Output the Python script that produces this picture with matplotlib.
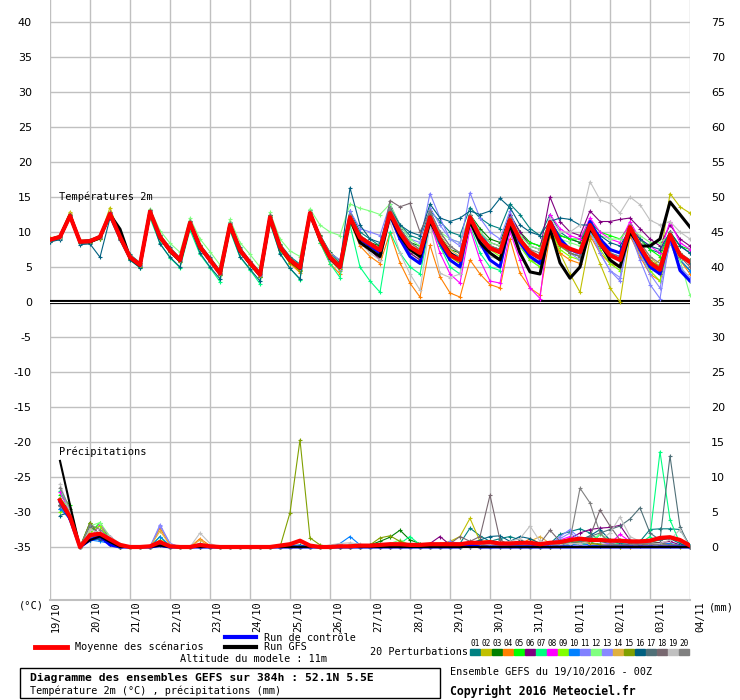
import numpy as np
import matplotlib
matplotlib.use('Agg')
import matplotlib.pyplot as plt
from matplotlib.patches import Rectangle

plt.rcParams['font.family'] = ['DejaVu Sans Mono', 'DejaVu Sans']

# run: GEFS 19/10/2016 00Z, 6-hourly steps out to 384h
days = ['19/10', '20/10', '21/10', '22/10', '23/10', '24/10', '25/10', '26/10', '27/10',
        '28/10', '29/10', '30/10', '31/10', '01/11', '02/11', '03/11', '04/11']
hours = np.arange(0, 385, 6)

# --- 2m temperature (degC), 65 values each ---
temp_mean = [8.9, 9.3, 12.3, 8.6, 8.7, 9.3, 12.6, 9.3, 6.4, 5.3,
             12.9, 9.3, 7.4, 6.0, 11.3, 7.9, 6.0, 4.1, 11.0, 7.4, 5.6, 3.9,
             12.1, 7.9, 6.0, 4.9, 12.7, 9.1, 6.4, 5.0,
             12.1, 9.2, 8.3, 7.4, 12.7, 9.9, 7.9, 7.0, 12.1, 8.9, 6.7, 6.0,
             12.1, 9.3, 7.7, 7.1, 11.7, 8.9, 7.1, 6.3, 11.4, 8.3, 7.6, 7.1,
             11.0, 8.4, 6.7, 6.0, 10.7, 7.9, 5.6, 4.6, 9.6, 6.7, 5.7]
temp_ctrl = [8.9, 9.3, 12.3, 8.6, 8.7, 9.3, 12.6, 9.3, 6.4, 5.3,
             12.9, 9.3, 7.4, 6.0, 11.3, 7.9, 6.0, 4.1, 11.0, 7.4, 5.6, 3.9,
             12.1, 7.9, 6.0, 4.9, 12.7, 9.1, 6.4, 5.0,
             12, 9, 8, 7, 12.5, 9, 6.5, 5.5, 12, 8.5, 6, 5,
             12, 8.5, 6, 5, 11.5, 8.5, 6.5, 5.5, 11.5, 9, 7.5, 7,
             11.5, 9, 7.5, 7, 10.5, 7.5, 5, 4, 9.5, 4.5, 3]
temp_gfs = [8.9, 9.3, 12.4, 8.6, 8.6, 9.2, 12.5, 10.4, 6.3, 5.2,
            12.9, 9.2, 7.3, 5.9, 11.2, 7.8, 6.0, 4.1, 11.0, 7.3, 5.5, 3.9,
            12.0, 7.8, 5.9, 4.8, 12.6, 9.0, 6.3, 4.9,
            12, 8.5, 7.5, 6.5, 12.5, 9.5, 7.5, 6.5, 11.5, 9, 7, 6,
            11.5, 8.5, 7, 6, 11, 7, 4.3, 4, 10.5, 5.6, 3.4, 5,
            10.5, 8.5, 6, 5, 10, 8, 8, 9, 14.3, 12.5, 10.7]

temp_p01 = [8.6, 9.0, 12.0, 8.4, 8.5, 9.6, 12.2, 9.0, 6.8, 5.6,
            12.5, 9.6, 7.8, 6.3, 11.6, 8.2, 6.4, 4.5, 11.4, 7.8, 5.9, 4.3,
            12.4, 8.3, 6.5, 5.4, 13.1, 9.5, 6.9, 5.6,
            13, 10, 9, 8, 13.5, 11, 9.5, 9, 13, 11.5, 10, 9.5,
            13.5, 12, 11, 10.5, 14, 12.5, 10.5, 9.5, 12.5, 10, 9, 8.5,
            11.5, 9, 7.5, 7, 11, 9, 7.5, 7, 10, 8, 7]
temp_p02 = [9.1, 9.5, 12.9, 8.8, 8.9, 9.4, 13.5, 9.5, 6.2, 5.1,
            12.7, 9.1, 7.2, 5.8, 11.0, 7.6, 5.7, 3.9, 10.8, 7.2, 5.3, 3.6,
            11.8, 7.6, 5.6, 4.4, 12.4, 8.8, 6.0, 4.5,
            11.5, 8.5, 7.5, 6.5, 12, 9, 7, 6, 11, 8, 6, 5,
            11, 8.5, 7, 6, 11, 8, 6, 5.5, 10.5, 7, 4, 1.4,
            9, 5.5, 2, 0, 9.5, 7, 5, 6, 15.5, 13.6, 12.7]
temp_p03 = [8.7, 9.2, 12.5, 8.5, 8.6, 9.0, 12.4, 9.1, 6.1, 5.0,
            13.1, 9.5, 7.5, 6.2, 11.5, 8.0, 5.8, 3.8, 11.2, 7.6, 5.5, 3.6,
            12.5, 8.0, 5.8, 4.6, 12.9, 9.6, 7.1, 5.9,
            12.5, 9.5, 8.5, 8, 13, 10.5, 8.5, 8, 12, 9.5, 7.5, 7,
            12.5, 10.5, 9, 8.5, 12.5, 10, 8.5, 8, 11.5, 9.5, 9, 8.5,
            11, 9, 7, 6, 10, 8, 5.5, 4, 8.5, 6, 4.5]
temp_p04 = [9.0, 9.4, 12.6, 8.7, 8.8, 9.2, 12.8, 9.4, 6.5, 5.5,
            13.0, 9.2, 7.1, 5.7, 11.1, 7.7, 5.8, 4.0, 10.9, 7.3, 5.4, 3.7,
            12.0, 7.5, 5.5, 4.2, 12.5, 8.5, 5.5, 4.0,
            11.5, 8, 6.5, 5.5, 9.9, 5.6, 2.7, 0.7, 8.1, 3.6, 1.3, 0.7,
            6, 4, 2.5, 2, 9, 4.1, 2, 1, 9.5, 7, 6, 5.5,
            9.5, 7, 5.5, 5, 9.5, 6.5, 4, 3, 9, 6, 4]
temp_p05 = [8.8, 9.1, 12.4, 8.7, 8.8, 9.4, 12.5, 9.6, 6.6, 5.4,
            12.8, 9.4, 7.6, 6.1, 11.4, 8.1, 6.2, 4.2, 11.2, 7.5, 5.7, 4.0,
            12.3, 8.1, 6.2, 5.1, 12.9, 9.2, 6.5, 5.2,
            12, 9.5, 8, 7, 13, 10, 8, 7, 12.5, 9, 6.5, 6,
            12, 9, 8, 7.5, 12, 9.5, 8.5, 8, 11.5, 9.5, 9, 9,
            11.5, 10, 9.5, 9, 11, 9, 7.5, 6.5, 10, 8, 7.5]
temp_p06 = [8.9, 9.3, 12.1, 8.6, 8.6, 9.2, 12.6, 9.2, 6.3, 5.2,
            12.9, 9.2, 7.3, 5.9, 11.3, 7.8, 5.9, 4.0, 11.1, 7.4, 5.6, 3.9,
            12.2, 7.8, 5.9, 4.8, 12.6, 8.9, 6.2, 4.8,
            11.5, 8.5, 7.5, 6, 12, 9, 7, 6, 12, 9.5, 7, 6,
            12, 10, 8.5, 8, 12.5, 10, 8, 7.5, 15, 11.5, 10, 9.5,
            13, 11.5, 11.5, 11.8, 12, 10.5, 9, 8, 11, 9, 8]
temp_p07 = [8.8, 9.2, 12.2, 8.5, 8.6, 9.1, 12.3, 9.0, 6.0, 4.9,
            12.0, 8.4, 6.3, 4.9, 10.3, 6.8, 4.9, 2.9, 10.2, 6.4, 4.6, 2.6,
            11.2, 7.0, 4.8, 3.2, 12.3, 8.5, 5.5, 3.5,
            11, 5, 3, 1.4, 10, 7, 5, 4, 11, 8, 5, 4,
            11, 7, 5, 4.5, 11, 8, 6, 5, 10.5, 8, 7, 6.5,
            10, 8, 6, 5, 10, 7.5, 5.5, 4.5, 9, 6.5, 6]
temp_p08 = [9.0, 9.4, 12.4, 8.7, 8.7, 9.3, 12.7, 9.4, 6.5, 5.4,
            13.1, 9.4, 7.5, 6.1, 11.4, 8.0, 6.1, 4.2, 11.1, 7.5, 5.7, 4.0,
            12.2, 8.0, 6.1, 5.0, 12.8, 9.2, 6.5, 5.1,
            12, 9, 8, 7, 12.5, 9.5, 7.5, 6.5, 11.5, 7, 4, 2.7,
            10.5, 6, 3, 2.7, 10, 6, 2, 0.5, 12.5, 10.5, 9.5, 9,
            12, 10, 9, 8.5, 11.5, 9, 8, 7, 11.5, 8.5, 7.5]
temp_p09 = [8.7, 9.1, 12.1, 8.5, 8.6, 9.2, 12.5, 9.2, 6.3, 5.2,
            12.8, 9.2, 7.2, 5.8, 11.2, 7.7, 5.8, 3.9, 10.9, 7.2, 5.4, 3.7,
            12.0, 7.7, 5.7, 4.6, 12.5, 8.9, 6.2, 4.7,
            12, 9, 8, 7, 12.5, 9.5, 7.5, 6.5, 12, 8.5, 6.5, 5.5,
            12, 9, 7.5, 6.5, 11, 8, 6, 5, 10.5, 7.5, 6.5, 6,
            10.5, 7.5, 5.5, 4.5, 10, 7, 4.5, 3, 8.5, 5, 3]
temp_p10 = [8.8, 9.3, 12.3, 8.6, 8.7, 9.4, 12.7, 9.3, 6.3, 5.2,
            13.0, 9.3, 7.4, 6.0, 11.3, 7.9, 6.0, 4.1, 11.2, 7.6, 5.7, 4.0,
            12.1, 7.9, 6.0, 4.9, 12.8, 9.1, 6.5, 5.0,
            12.5, 9.5, 8.5, 7.5, 13, 10, 8, 7, 12.5, 9, 7, 6.5,
            12.5, 10, 8, 7.5, 12, 9, 7.5, 6.5, 11.5, 8.5, 7.5, 7,
            11.5, 8.5, 7, 6.5, 11, 8, 5.5, 4.5, 9.5, 6, 4.5]
temp_p11 = [9.0, 9.4, 12.4, 8.7, 8.8, 9.4, 12.6, 9.3, 6.4, 5.3,
            12.9, 9.3, 7.4, 6.0, 11.3, 7.9, 6.0, 4.1, 11.0, 7.4, 5.6, 3.9,
            12.2, 8.0, 6.1, 5.0, 12.8, 9.5, 7.0, 6.0,
            13, 10.5, 10, 9.5, 14, 11, 9, 8.5, 15.5, 12, 9, 8,
            15.6, 12, 10, 9, 13, 9, 7, 6, 12, 9, 7.5, 6.5,
            11, 7, 4.5, 3, 10, 6, 2.5, 0.5, 9, 5, 3]
temp_p12 = [8.9, 9.3, 12.6, 8.6, 8.8, 9.5, 12.6, 9.5, 6.6, 5.5,
            13.3, 10.2, 8.4, 7.1, 12.0, 9.0, 7.2, 5.3, 11.8, 8.5, 6.8, 5.0,
            12.8, 9.0, 7.3, 6.5, 13.3, 11, 10, 9.5,
            14, 13.4, 13, 12.5, 14, 11, 9, 8, 12, 10, 9, 8.5,
            12.5, 10, 8.5, 8, 12, 9.5, 8, 7.5, 11.5, 9, 8.5, 8,
            10.5, 9.5, 9, 9, 10.5, 9.5, 8.5, 8.5, 9.5, 6, 1]
temp_p13 = [8.8, 9.2, 12.2, 8.5, 8.6, 9.2, 12.5, 9.2, 6.3, 5.2,
            12.7, 9.1, 7.2, 5.8, 11.1, 7.6, 5.7, 3.8, 10.8, 7.2, 5.4, 3.7,
            11.9, 7.7, 5.8, 4.7, 12.5, 8.8, 6.0, 4.6,
            12, 9, 8, 7, 12.5, 10, 8, 7, 13.5, 11, 9, 8.5,
            12, 9, 7.5, 7, 11.5, 9, 7, 6, 11, 8, 7, 6,
            10, 7, 4.5, 3.5, 10, 7, 4, 2, 8.5, 5, 3.5]
temp_p14 = [9.1, 9.4, 12.7, 8.8, 8.9, 9.4, 12.9, 9.5, 6.6, 5.5,
            13.0, 9.5, 7.6, 6.2, 11.5, 8.1, 6.2, 4.3, 11.2, 7.6, 5.8, 4.1,
            12.3, 8.1, 6.2, 5.2, 12.9, 9.4, 6.8, 5.4,
            12.5, 9.5, 8.5, 7.5, 13, 10, 8, 7.5, 12.5, 9.5, 7.5, 6.5,
            12.5, 9.5, 8, 7.5, 12, 9, 7.5, 6.5, 11.5, 8.5, 7.5, 7,
            11, 8.5, 7, 6, 11, 8.5, 6.5, 5, 10, 7, 5.5]
temp_p15 = [8.7, 9.1, 12.4, 8.5, 8.5, 9.0, 12.4, 9.0, 6.1, 5.0,
            12.7, 9.0, 7.1, 5.7, 11.0, 7.6, 5.8, 3.9, 10.7, 7.1, 5.3, 3.6,
            11.7, 7.5, 5.6, 4.5, 12.4, 8.8, 6.1, 4.7,
            12, 9, 8, 7, 12.5, 9.5, 8, 7, 11.5, 8.5, 6.5, 5.5,
            11.5, 9, 7.5, 7, 11, 8.5, 7, 6, 11, 8, 7, 6.5,
            10.5, 8, 6.5, 6, 10.5, 8, 6, 5, 10, 7, 6]
temp_p16 = [8.6, 8.9, 12.0, 8.2, 8.3, 6.4, 12.0, 8.8, 6.0, 4.9,
            12.5, 8.3, 6.4, 5.0, 10.8, 7.0, 5.0, 3.3, 10.4, 6.5, 4.7, 3.0,
            11.5, 6.9, 4.8, 3.3, 12.3, 8.8, 6.2, 5.5,
            16.3, 11, 9, 8.5, 13.5, 11, 10, 9.5, 14, 12, 11.5, 12,
            13, 12.5, 13, 14.8, 13.5, 11, 10, 9.5, 11.5, 12, 11.8, 11,
            11, 9.5, 8.5, 8, 10.5, 9, 8, 7.5, 10, 8, 7]
temp_p17 = [8.9, 9.3, 12.3, 8.6, 8.6, 9.3, 12.6, 9.3, 6.4, 5.3,
            12.9, 9.3, 7.4, 6.0, 11.3, 7.9, 6.0, 4.1, 11.0, 7.4, 5.6, 3.9,
            12.1, 7.9, 6.0, 4.9, 12.7, 9.1, 6.4, 5.0,
            12, 9, 8, 7, 13, 10.5, 8.5, 7.5, 12.5, 9, 7, 6,
            12.5, 9.5, 8, 7.5, 12, 9, 7, 6, 11.5, 8.5, 7.5, 7,
            11, 8.5, 7, 6, 10.5, 8, 5.5, 4.5, 9.5, 6.5, 5.5]
temp_p18 = [9.0, 9.5, 12.5, 8.8, 8.9, 9.5, 12.8, 9.6, 6.7, 5.6,
            13.1, 9.6, 7.7, 6.3, 11.6, 8.2, 6.3, 4.4, 11.3, 7.7, 5.9, 4.2,
            12.4, 8.2, 6.3, 5.2, 12.9, 9.4, 6.7, 5.3,
            12.5, 9.5, 8.5, 7.5, 14.5, 13.6, 14.1, 10, 13, 10, 8, 7,
            12.5, 9.5, 8, 7, 12, 9, 7, 6, 11.5, 8.5, 7, 6.5,
            11, 8, 6, 5, 10.5, 7.5, 5, 4, 9.5, 6.5, 5]
temp_p19 = [8.8, 9.2, 12.3, 8.6, 8.7, 9.3, 12.5, 9.3, 6.4, 5.3,
            12.8, 9.3, 7.4, 6.0, 11.3, 7.9, 6.0, 4.1, 11.0, 7.4, 5.6, 3.9,
            12.0, 7.9, 6.0, 4.9, 12.6, 9.0, 6.3, 4.9,
            12, 8.5, 7, 6, 11.5, 7, 4, 1.7, 11, 4.1, 3.5, 4,
            11, 8, 6.5, 6, 11, 8, 6.5, 6, 12, 10, 10, 11,
            17.2, 14.6, 14.1, 12.7, 15, 13.9, 11.7, 11, 11.5, 10, 9]
temp_p20 = [8.9, 9.3, 12.4, 8.7, 8.7, 9.3, 12.6, 9.3, 6.4, 5.3,
            12.9, 9.3, 7.5, 6.1, 11.4, 8.0, 6.1, 4.2, 11.1, 7.5, 5.7, 4.0,
            12.2, 8.0, 6.1, 5.0, 12.7, 9.2, 6.5, 5.1,
            12.5, 9.5, 8.5, 7.5, 13.5, 10.5, 8.5, 7.5, 13, 10, 8, 7,
            12.5, 9.5, 8, 7.5, 12, 9, 7.5, 7, 11.5, 8.5, 7.5, 7,
            11, 8.5, 7, 6.5, 11, 8.5, 6.5, 5.5, 10, 7, 6]

# --- 6h precipitation (mm), 64 values each, from +6h ---
rain_mean = [6.7, 4.3, 0, 1.7, 1.9, 1.1, 0.3, 0, 0, 0.1, 0.7, 0.1, 0, 0, 0.3, 0.1,
             0, 0, 0, 0, 0, 0, 0.2, 0.4, 0.9, 0.2, 0, 0, 0.1, 0.1, 0.2, 0.2,
             0.3, 0.4, 0.4, 0.3, 0.3, 0.4, 0.4, 0.4, 0.4, 0.6, 0.6, 0.7, 0.5, 0.5, 0.6, 0.6,
             0.4, 0.6, 0.7, 1.0, 1.2, 1.0, 1.0, 0.9, 0.9, 0.8, 0.8, 0.9, 1.3, 1.4, 1.0, 0.2]
rain_ctrl = [6.5, 4.0, 0, 1.0, 1.5, 0.3, 0, 0, 0, 0, 0.2, 0, 0, 0, 0, 0,
             0, 0, 0, 0, 0, 0, 0, 0, 0, 0, 0, 0, 0, 0, 0, 0,
             0, 0, 0, 0, 0, 0, 0, 0, 0, 0.3, 0, 0, 0, 0, 0, 0,
             0, 0, 0, 0, 0, 0, 0, 0, 0, 0, 0, 0, 0, 0, 0, 0]
rain_gfs = [12.3, 6.0, 0, 1.0, 1.5, 0.7, 0, 0, 0, 0, 0.2, 0, 0, 0, 0, 0,
            0, 0, 0, 0, 0, 0, 0, 0, 0, 0, 0, 0, 0, 0, 0, 0,
            0, 0, 0, 0, 0, 0, 0, 0, 0, 0, 0, 0, 0, 0, 0, 0,
            0, 0, 0, 0, 0, 0, 0, 0, 0, 0, 0, 0, 0, 0, 0, 0]

rain_p01 = [5.5, 4.0, 0, 1.2, 1.5, 0.5, 0, 0, 0, 0, 0.4, 0, 0, 0, 0.2, 0,
            0, 0, 0, 0, 0, 0, 0, 0.2, 0.3, 0, 0, 0, 0, 0, 0, 0.2,
            0.4, 0.3, 0.2, 0.5, 0.3, 0.3, 0.2, 0.2, 0.5, 2.7, 1.6, 0.8, 1.2, 1.5, 1.0, 0.5,
            0.3, 0.5, 1.8, 2.2, 2.6, 2.0, 0.8, 0.5, 0.3, 0.5, 0.8, 2.5, 2.6, 2.6, 2.5, 0.2]
rain_p02 = [6.5, 4.5, 0, 2.5, 3.0, 1.0, 0, 0, 0, 0, 1.0, 0, 0, 0, 0, 0,
            0, 0, 0, 0, 0, 0, 0, 0, 0, 0, 0, 0, 0, 0.3, 0.2, 0,
            0, 0, 0, 0, 0, 0, 0.5, 0.8, 1.5, 4.1, 0.8, 0.9, 0.3, 0.2, 0.1, 0,
            0.2, 0, 0, 0.3, 0.5, 0.3, 0.2, 0, 0, 0, 0.2, 0.3, 0.5, 0.4, 0.2, 0]
rain_p03 = [7.0, 5.0, 0, 3.5, 1.5, 0.5, 0, 0, 0, 0, 0.8, 0, 0, 0, 0, 0,
            0, 0, 0, 0, 0, 0, 0, 0, 0, 0, 0, 0, 0, 0, 0, 0.3,
            0.8, 1.4, 2.4, 1.0, 0.5, 0.2, 0, 0, 0, 0.3, 0.2, 0.5, 0.3, 0.2, 0.2, 0,
            0, 0, 0.3, 0.5, 0.8, 0.6, 0.4, 0.3, 0.2, 0.3, 0.5, 0.8, 0.6, 0.4, 0.2, 0]
rain_p04 = [6.0, 4.5, 0, 1.5, 1.8, 0.8, 0, 0, 0, 0, 2.7, 0.3, 0, 0, 1.2, 0.2,
            0, 0, 0, 0, 0, 0, 0, 0, 0, 0, 0, 0, 0, 0, 0, 0,
            0, 0, 0.2, 0, 0, 0, 0, 0, 0, 0.5, 0.3, 0.2, 0, 0.5, 0.3, 1.2,
            0.5, 0.3, 0.2, 0.8, 1.0, 0.6, 0.3, 0.2, 0, 0, 0.3, 0.5, 0.3, 0.2, 0, 0]
rain_p05 = [7.5, 6.0, 0, 2.0, 3.5, 1.0, 0, 0, 0, 0, 1.5, 0, 0, 0, 0.4, 0,
            0, 0, 0, 0, 0, 0, 0, 0, 0, 0, 0, 0, 0, 0, 0, 0,
            0.2, 0.5, 0.3, 0, 0, 0, 0, 0, 0, 0.2, 0.2, 0, 0, 0.3, 0.2, 0,
            0, 0.2, 0.4, 0.6, 0.8, 0.5, 0.3, 0.2, 0.2, 0.3, 0.3, 0.5, 0.4, 0.3, 0.2, 0]
rain_p06 = [6.0, 4.0, 0, 1.5, 1.0, 1.5, 0.3, 0, 0, 0, 0.5, 0, 0, 0, 0, 0,
            0, 0, 0, 0, 0, 0, 0, 0, 0, 0, 0, 0, 0, 0, 0, 0,
            0, 0, 0, 0, 0, 0.5, 1.5, 0.3, 0.2, 0.3, 0.2, 0.3, 0.5, 0.3, 0.2, 0.2,
            0.3, 0.5, 0.8, 1.2, 2.0, 2.5, 2.7, 2.8, 3.1, 1.0, 0.5, 0.5, 0.6, 0.8, 0.3, 0]
rain_p07 = [8.0, 5.5, 0, 1.0, 1.2, 0.5, 0, 0, 0, 0, 0.3, 0, 0, 0, 0, 0,
            0, 0, 0, 0, 0, 0, 0, 0, 0, 0, 0, 0, 0, 0, 0, 0,
            0, 0, 0.5, 1.5, 0.3, 0, 0, 0, 0, 0.2, 0.2, 0.3, 0.2, 0, 0, 0,
            0, 0.2, 0.2, 0.5, 0.5, 0.3, 1.8, 1.0, 0.3, 0.2, 0.5, 1.5, 13.6, 3.9, 0.5, 0]
rain_p08 = [7.8, 5.0, 0, 1.2, 3.2, 1.5, 0.2, 0, 0, 0, 0.6, 0, 0, 0, 0, 0,
            0, 0, 0, 0, 0, 0, 0, 0, 0, 0, 0, 0, 0, 0, 0, 0,
            0, 0, 0, 0, 0, 0, 0.5, 0.3, 0.2, 0, 0, 0.3, 0.2, 0.2, 0, 0,
            0, 0.2, 1.0, 1.5, 0.8, 0.5, 0.3, 0.5, 1.8, 0.8, 0.3, 0.2, 0.5, 0.3, 0.2, 0]
rain_p09 = [5.0, 5.5, 0, 2.0, 3.0, 0.8, 0, 0, 0, 0, 0.5, 0, 0, 0, 0.3, 0,
            0, 0, 0, 0, 0, 0, 0, 0, 0, 0, 0, 0, 0, 0, 0, 0,
            0.2, 0.3, 0, 0, 0.3, 0.2, 0, 0, 0, 0.2, 0, 0, 0, 0, 0, 0,
            0, 0, 0.5, 0.8, 0.5, 0.3, 0.2, 0.2, 0, 0.2, 0.3, 0.5, 0.3, 0.2, 0, 0]
rain_p10 = [5.5, 4.0, 0, 1.0, 0.8, 0.5, 0, 0, 0, 0, 1.5, 0.2, 0, 0, 0, 0,
            0, 0, 0, 0, 0, 0, 0, 0, 0, 0, 0, 0, 0.5, 1.5, 0.3, 0,
            0, 0, 0, 0, 0, 0, 0, 0, 0, 0, 0, 0, 0.2, 0, 0, 0,
            0, 0, 0.2, 0.3, 0.5, 0.3, 0.2, 0.2, 0.2, 0.2, 0.3, 0.3, 0.5, 0.5, 0.2, 0]
rain_p11 = [6.5, 4.5, 0, 1.5, 2.0, 1.0, 0, 0, 0, 0, 3.0, 0.5, 0, 0, 0, 0,
            0, 0, 0, 0, 0, 0, 0, 0, 0, 0, 0, 0, 0, 0, 0, 0,
            0, 0, 0, 0, 0, 0, 0, 0.8, 0.5, 0.3, 0.2, 0, 0.3, 0.2, 0, 0,
            0.2, 0.3, 1.5, 2.5, 1.2, 0.5, 0.3, 0.5, 0.8, 0.3, 0.2, 0.3, 0.5, 0.3, 0.2, 0]
rain_p12 = [7.0, 5.5, 0, 3.0, 3.5, 1.5, 0, 0, 0, 0, 0.4, 0, 0, 0, 0, 0,
            0, 0, 0, 0, 0, 0, 0, 0, 0, 0, 0, 0, 0, 0, 0, 0,
            0, 0.5, 1.0, 0.3, 0, 0, 0, 0, 0, 0.2, 0, 0, 0, 0, 0, 0,
            0, 0, 0.3, 0.5, 0.5, 1.0, 1.8, 1.0, 0.5, 0.3, 0.3, 0.2, 0.3, 0.2, 0.2, 0]
rain_p13 = [6.0, 4.0, 0, 1.5, 1.5, 0.8, 0, 0, 0, 0, 3.2, 0.5, 0, 0, 0.4, 0,
            0, 0, 0, 0, 0, 0, 0, 0, 0, 0, 0, 0, 0, 0, 0, 0,
            0, 0, 0, 0, 0, 0, 0, 0, 0, 0, 0, 0, 0, 0, 0, 0,
            0, 0.5, 1.2, 2.0, 1.0, 0.5, 0.3, 0.2, 0.2, 0.2, 0.3, 0.3, 0.5, 0.3, 0.2, 0]
rain_p14 = [6.5, 5.0, 0, 2.0, 2.0, 1.0, 0, 0, 0, 0, 2.3, 0.3, 0, 0, 1.0, 0,
            0, 0, 0, 0, 0, 0, 0, 0, 0, 0, 0, 0, 0, 0, 0, 0,
            0, 0, 0, 0, 0, 0.3, 0.5, 0.3, 0.2, 0.5, 0.8, 0.3, 0.2, 0, 0.3, 0.8,
            1.5, 0.5, 0.3, 0.5, 0.8, 0.5, 0.3, 0.2, 0.2, 0.3, 0.2, 0.3, 0.3, 0.2, 0, 0]
rain_p15 = [6.0, 4.5, 0, 3.5, 1.5, 0.5, 0, 0, 0, 0, 0.5, 0, 0, 0, 0, 0,
            0, 0, 0, 0, 0, 0, 0, 4.9, 15.3, 1.3, 0.3, 0, 0, 0, 0, 0.3,
            1.3, 1.6, 0.8, 0.3, 0, 0, 0, 0, 0, 0.2, 0.2, 0.3, 0.5, 0.2, 0, 0,
            0, 0, 0.3, 0.5, 0.8, 0.6, 0.3, 0.2, 0.2, 0.3, 0.3, 0.5, 0.5, 0.3, 0.2, 0]
rain_p16 = [4.5, 5.0, 0, 1.0, 1.2, 0.5, 0, 0, 0, 0, 0.5, 0, 0, 0, 0, 0,
            0, 0, 0, 0, 0, 0, 0, 0, 0, 0, 0, 0, 0, 0, 0, 0,
            0, 0, 0, 0, 0, 0, 0, 0, 0, 0.5, 1.0, 1.5, 1.6, 0.8, 1.5, 1.2,
            0.5, 0.3, 0.5, 0.8, 1.0, 1.6, 2.5, 1.0, 0.5, 0.3, 0.5, 0.8, 1.0, 1.2, 0.5, 0]
rain_p17 = [6.0, 5.0, 0, 3.0, 1.8, 1.2, 0, 0, 0, 0, 0.5, 0, 0, 0, 0, 0,
            0, 0, 0, 0, 0, 0, 0, 0, 0, 0, 0, 0, 0, 0, 0, 0,
            0, 0, 0, 0, 0, 0, 0, 0, 0, 0, 0, 0, 0, 0, 0, 0,
            0, 0, 0.2, 0.5, 0.8, 1.5, 2.0, 2.5, 3.0, 4.0, 5.6, 2.0, 1.0, 13.0, 2.9, 0]
rain_p18 = [5.8, 4.5, 0, 1.5, 1.5, 0.5, 0, 0, 0, 0, 0.3, 0, 0, 0, 0, 0,
            0, 0, 0, 0, 0, 0, 0, 0, 0, 0, 0, 0, 0, 0, 0, 0,
            0, 0, 0, 0, 0, 0, 0, 0.5, 1.5, 0.8, 1.5, 7.4, 1.0, 0.3, 0.2, 0.3,
            0.5, 2.4, 0.8, 0.5, 0.5, 1.5, 5.3, 3.0, 1.0, 0.5, 0.3, 0.3, 0.5, 0.3, 0.2, 0]
rain_p19 = [9.0, 5.0, 0, 2.5, 2.0, 1.5, 0.5, 0, 0, 0, 0.5, 0.3, 0, 0, 2.0, 0.5,
            0, 0, 0, 0, 0, 0, 0, 0, 0, 0, 0, 0.3, 0.5, 0.6, 0.4, 0.2,
            0.5, 0.3, 0, 0, 0, 0, 0, 0.3, 0.5, 0.3, 0.5, 0.3, 0.5, 0.8, 1.2, 3.0,
            0.8, 0.3, 0.3, 0.5, 0.5, 0.8, 1.0, 2.0, 4.3, 1.5, 0.8, 0.5, 0.5, 1.0, 2.5, 0]
rain_p20 = [8.5, 5.5, 0, 3.2, 2.5, 1.2, 0.3, 0, 0, 0, 0.8, 0, 0, 0, 0.5, 0,
            0, 0, 0, 0, 0, 0, 0, 0, 0, 0, 0, 0, 0, 0, 0, 0,
            0, 0, 0, 0, 0, 0, 0, 0, 0, 0, 0, 0, 0, 0, 0, 0,
            0, 0, 0, 1.0, 8.4, 6.3, 2.0, 0.5, 0.3, 0.3, 0.5, 0.5, 0.3, 0.3, 0.2, 0]

pert_colors = ['#008080', '#c0c000', '#008000', '#ff8000', '#00ff00', '#800080', '#00ff80',
               '#ff00ff', '#80ff00', '#0080ff', '#8080ff', '#80ff80', '#8888ff', '#e0b040',
               '#80a000', '#006080', '#507078', '#786870', '#c0c0c0', '#808080']

temp_perts = [temp_p01, temp_p02, temp_p03, temp_p04, temp_p05, temp_p06, temp_p07,
              temp_p08, temp_p09, temp_p10, temp_p11, temp_p12, temp_p13, temp_p14,
              temp_p15, temp_p16, temp_p17, temp_p18, temp_p19, temp_p20]
rain_perts = [rain_p01, rain_p02, rain_p03, rain_p04, rain_p05, rain_p06, rain_p07,
              rain_p08, rain_p09, rain_p10, rain_p11, rain_p12, rain_p13, rain_p14,
              rain_p15, rain_p16, rain_p17, rain_p18, rain_p19, rain_p20]

# precipitation is drawn on the same axis, shifted so that 0 mm sits at -35
OFFSET = 35

fig = plt.figure(figsize=(7.4, 7.0), dpi=100)
ax = fig.add_axes([50 / 740, 100 / 700, 640 / 740, 600 / 700])
ymin, ymax = (302 - 600) / 7, 302 / 7
ax.set_xlim(0, 384)
ax.set_ylim(ymin, ymax)
ax.set_xticks(range(0, 385, 24))
ax.set_yticks(range(-35, 41, 5))
ax.set_yticklabels([str(v) for v in range(-35, 41, 5)], family='DejaVu Sans', fontsize=8)
ax.grid(color='#c0c0c0', lw=1)
ax.set_axisbelow(True)
for s in ax.spines.values():
    s.set_visible(False)
ax.tick_params(length=0, labelbottom=False, pad=13)
ax.axhline(ymin, color='#c0c0c0', lw=1.5, clip_on=False)

ax2 = ax.twinx()
ax2.set_ylim(ymin, ymax)
ax2.set_yticks(range(-35, 41, 5))
ax2.set_yticklabels([str(v + OFFSET) for v in range(-35, 41, 5)], family='DejaVu Sans', fontsize=8)
for s in ax2.spines.values():
    s.set_visible(False)
ax2.tick_params(length=0, pad=15)

# double zero line
ax.axhline(0, color='black', lw=3.0, zorder=4)
ax.axhline(0, color='white', lw=0.8, zorder=4.1)

for t, r, c in zip(temp_perts, rain_perts, pert_colors):
    ax.plot(hours, t, color=c, lw=0.8, marker='+', ms=3, mew=0.8, zorder=5)
    ax.plot(hours[1:], np.array(r) - OFFSET, color=c, lw=0.8, marker='+', ms=3, mew=0.8, zorder=5)

ax.plot(hours, temp_ctrl, color='#0000ff', lw=2.2, zorder=6)
ax.plot(hours[1:], np.array(rain_ctrl) - OFFSET, color='#0000ff', lw=2.2, zorder=6)
ax.plot(hours, temp_gfs, color='black', lw=2.2, zorder=6)
ax.plot(hours[1:], np.array(rain_gfs) - OFFSET, color='black', lw=1.5, zorder=6)
ax.plot(hours, temp_mean, color='#ff0000', lw=3.0, zorder=7)
ax.plot(hours[1:], np.array(rain_mean) - OFFSET, color='#ff0000', lw=3.0, zorder=7)

ax.text(5.5, 15.0, 'Températures 2m', fontsize=7.5, va='center', zorder=8)
ax.text(5.5, -21.4, 'Précipitations', fontsize=7.5, va='center', zorder=8)

# day labels, rotated, just right of each midnight grid line
xt = ax.get_xaxis_transform()
for i, d in enumerate(days):
    ax.text(3.6 + i * 24.18, -0.002, d, rotation=90, ha='center', va='top',
            fontsize=7.4, transform=xt)

# bottom legend / captions in pixel coordinates
lay = fig.add_axes([0, 0, 1, 1], facecolor='none')
lay.set_xlim(0, 740)
lay.set_ylim(700, 0)
lay.axis('off')

lay.text(31, 606, '(°C)', fontsize=7.5, ha='center', va='center')
lay.text(721, 607, '(mm)', fontsize=7.5, ha='center', va='center')

lay.plot([35, 67], [647, 647], color='#ff0000', lw=3.5)
lay.text(75, 647, 'Moyenne des scénarios', fontsize=7.3, va='center')
lay.plot([225, 256], [637, 637], color='#0000ff', lw=3)
lay.text(264, 638, 'Run de contrôle', fontsize=7.3, va='center')
lay.plot([225, 256], [647, 647], color='black', lw=3)
lay.text(264, 647, 'Run GFS', fontsize=7.3, va='center')
lay.text(180, 659, 'Altitude du modele : 11m', fontsize=7.3, va='center')

lay.text(370, 652, '20 Perturbations', fontsize=7.3, va='center')
for k, c in enumerate(pert_colors):
    lay.add_patch(Rectangle((470 + 11 * k, 649), 10, 6, color=c))
    lay.text(475 + 11 * k, 643, '%02d' % (k + 1), fontsize=5.6, ha='center', va='center')

lay.add_patch(Rectangle((20, 668), 420, 30, fill=False, ec='black', lw=1))
lay.text(30, 678, 'Diagramme des ensembles GEFS sur 384h : 52.1N 5.5E',
         fontsize=8.2, fontweight='bold', va='center')
lay.text(30, 691, 'Température 2m (°C) , précipitations (mm)', fontsize=7.3, va='center')
lay.text(450, 672, 'Ensemble GEFS du 19/10/2016 - 00Z', fontsize=7.3, va='center')
lay.text(450, 691, 'Copyright 2016 Meteociel.fr', fontsize=8.3, fontweight='bold', va='center')

fig.savefig('out.png', dpi=100)
